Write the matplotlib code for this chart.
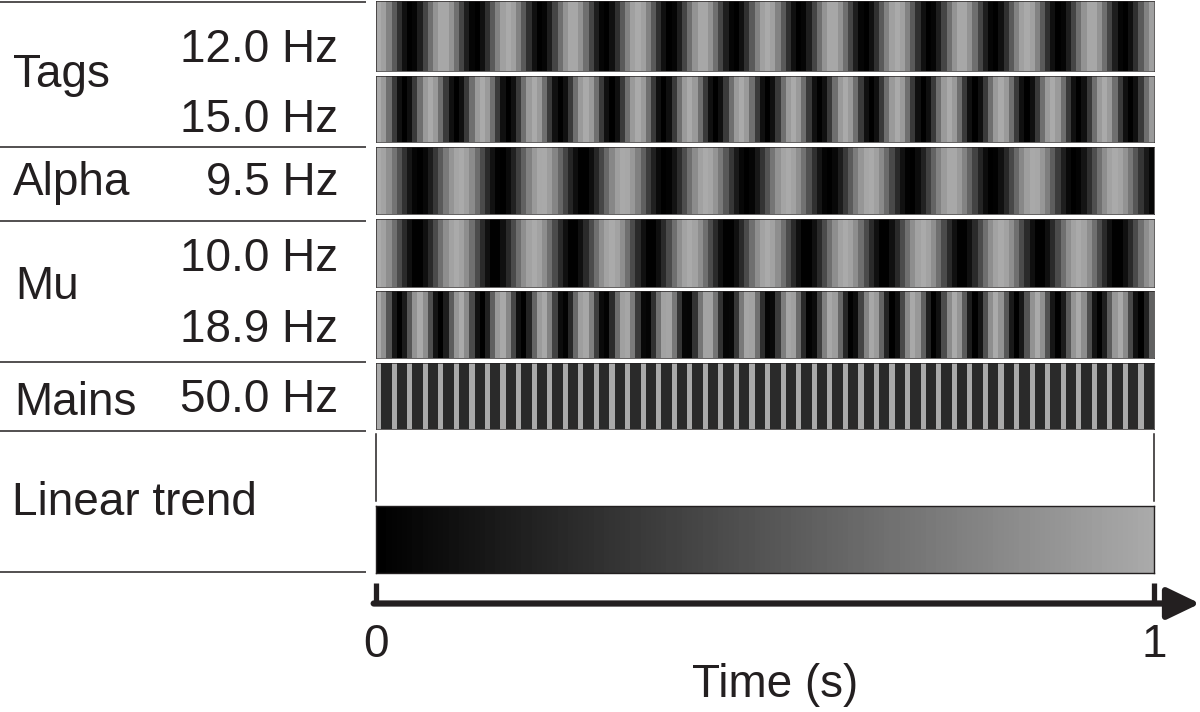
import numpy as np
import matplotlib
matplotlib.use('Agg')
import matplotlib.pyplot as plt
from matplotlib.colors import LinearSegmentedColormap

# Segnali rappresentati come strisce di grigio (coseno campionato nel tempo)
group_names = ['Tags', 'Alpha', 'Mu', 'Mains', 'Linear trend']
freqs = [12.0, 15.0, 9.5, 10.0, 18.9, 50.0]
freq_labels = ['12.0 Hz', '15.0 Hz', '9.5 Hz', '10.0 Hz', '18.9 Hz', '50.0 Hz']
fs = 150          # campioni al secondo
duration = 1.0    # secondi
time_ticks = [0, 1]
time_ticklabels = ['0', '1']

W, H = 1200, 712
ink = '#231f20'
plt.rcParams['font.family'] = 'Liberation Sans'
cmap = LinearSegmentedColormap.from_list('strip', ['#000000', '#aaaaaa'])

t = np.arange(int(fs * duration)) / fs
trend = np.linspace(-1, 1, len(t))

# posizioni delle strisce in pixel (alto, basso)
strip_rows = [(1, 71), (76, 142), (147, 214), (219, 287), (291, 358), (363, 429)]
trend_row = (506, 573)
x0, x1 = 376, 1154


def px_axes(fig, left, top, right, bottom):
    return fig.add_axes([left / W, 1 - bottom / H, (right - left) / W, (bottom - top) / H])


fig = plt.figure(figsize=(W / 100, H / 100), dpi=100)

for f, (top, bot) in zip(freqs, strip_rows):
    ax = px_axes(fig, x0, top, x1, bot)
    sig = np.cos(2 * np.pi * f * t)
    ax.imshow(sig[np.newaxis, :], cmap=cmap, vmin=-1, vmax=1, aspect='auto',
              extent=(0, duration, 0, 1), interpolation='nearest')
    ax.set_xticks([])
    ax.set_yticks([])
    for s in ax.spines.values():
        s.set_linewidth(0.5)
        s.set_color(ink)

# spazio vuoto sopra il trend con solo i bordi verticali
ax_gap = px_axes(fig, x0, 434, x1, 501)
ax_gap.set_xticks([])
ax_gap.set_yticks([])
ax_gap.spines['top'].set_visible(False)
ax_gap.spines['bottom'].set_visible(False)
for side in ['left', 'right']:
    ax_gap.spines[side].set_linewidth(1.1)
    ax_gap.spines[side].set_color(ink)

ax_tr = px_axes(fig, x0, trend_row[0], x1, trend_row[1])
ax_tr.imshow(trend[np.newaxis, :], cmap=cmap, vmin=-1, vmax=1, aspect='auto',
             extent=(0, duration, 0, 1), interpolation='nearest')
ax_tr.set_xticks([])
ax_tr.set_yticks([])
for s in ax_tr.spines.values():
    s.set_linewidth(1.0)
    s.set_color(ink)

# asse del tempo con freccia
ax_t = px_axes(fig, x0, 583, x1, 603.5)
ax_t.set_xlim(0, duration)
ax_t.set_ylim(0, 1)
for s in ax_t.spines.values():
    s.set_visible(False)
ax_t.set_yticks([])
ax_t.set_xticks(time_ticks)
ax_t.set_xticklabels(time_ticklabels, fontsize=33, color=ink)
ax_t.tick_params(axis='x', direction='in', length=15, width=3.8, color=ink, pad=14)
ax_t.patch.set_alpha(0)
ax_t.annotate('', xy=((W - x0) / (x1 - x0), 0), xytext=(-0.003, 0),
              xycoords='data', textcoords='data', annotation_clip=False,
              arrowprops=dict(arrowstyle='-|>,head_length=0.5,head_width=0.24',
                              lw=4.5, color=ink, shrinkA=0, shrinkB=0,
                              mutation_scale=40))
fig.text(775 / W, 1 - 697 / H, 'Time (s)', ha='center', va='baseline',
         fontsize=33, color=ink)

# colonna delle etichette a sinistra
ax_l = px_axes(fig, 0, 0, 366, H)
ax_l.set_xlim(0, 366)
ax_l.set_ylim(H, 0)
ax_l.axis('off')
for y in [1.5, 146.5, 220.5, 361.5, 431, 572]:
    ax_l.axhline(y, color=ink, lw=1.1)

group_pos = [(13, 87), (13, 195), (15, 299), (14, 415), (12, 515)]
for name, (x, y) in zip(group_names, group_pos):
    ax_l.text(x, y, name, ha='left', va='baseline', fontsize=33, color=ink)

freq_base = [62, 132, 195, 271, 342, 412]
for lab, y in zip(freq_labels, freq_base):
    ax_l.text(338, y, lab, ha='right', va='baseline', fontsize=33, color=ink)

fig.savefig('out.png', dpi=100)
